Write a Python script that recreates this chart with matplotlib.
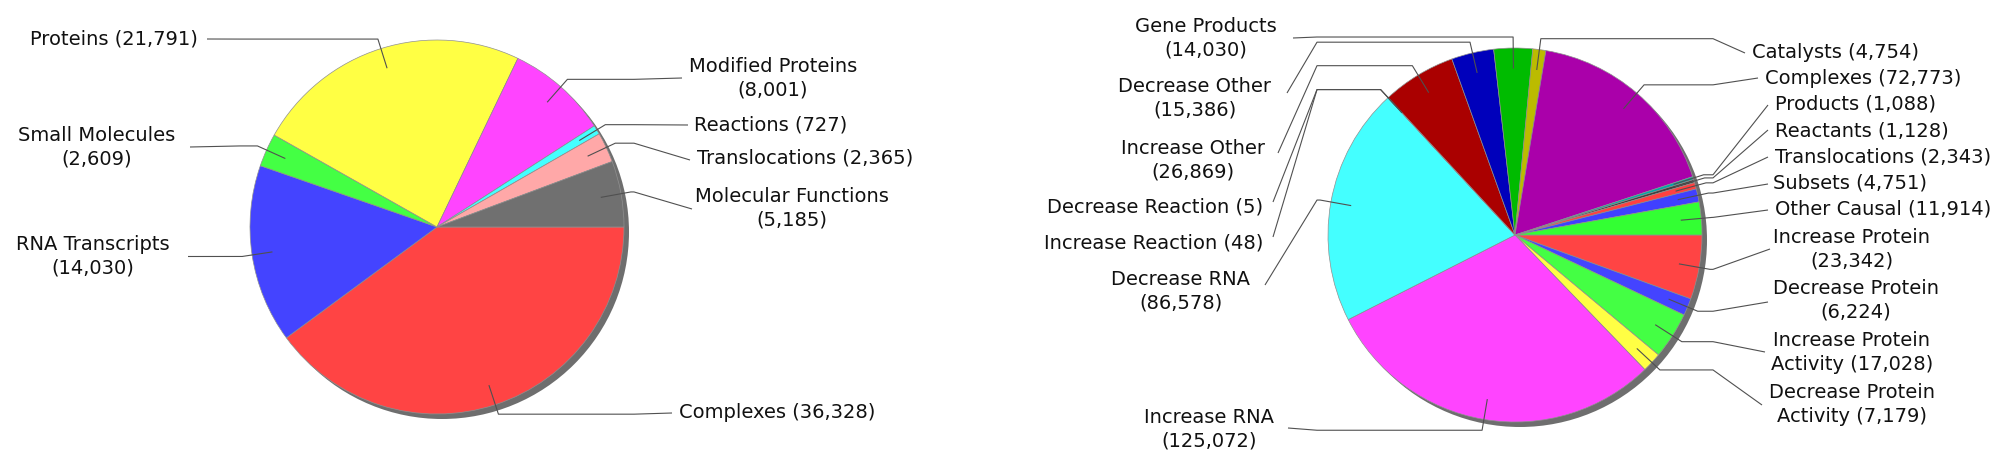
import numpy as np
import matplotlib
matplotlib.use("Agg")
import matplotlib.pyplot as plt
from matplotlib.patches import Circle

W, H = 2008, 463

# left pie: entity types
left_names = ["Complexes", "RNA Transcripts", "Small Molecules", "Proteins",
              "Modified Proteins", "Reactions", "Translocations", "Molecular Functions"]
left_counts = [36328, 14030, 2609, 21791, 8001, 727, 2365, 5185]
left_colors = ["#FF4444", "#4444FF", "#44FF44", "#FFFF44",
               "#FF44FF", "#44FFFF", "#FFA8A8", "#707070"]

# right pie: relation types
right_names = ["Increase Protein", "Decrease Protein", "Increase Protein Activity",
               "Decrease Protein Activity", "Increase RNA", "Decrease RNA",
               "Increase Reaction", "Decrease Reaction", "Increase Other", "Decrease Other",
               "Gene Products", "Catalysts", "Complexes", "Products", "Reactants",
               "Translocations", "Subsets", "Other Causal"]
right_counts = [23342, 6224, 17028, 7179, 125072, 86578, 48, 5, 26869, 15386,
                14030, 4754, 72773, 1088, 1128, 2343, 4751, 11914]
right_colors = ["#FF4444", "#4444FF", "#44FF44", "#FFFF44", "#FF44FF", "#44FFFF",
                "#FFA8A8", "#808080", "#AA0000", "#0000BB", "#00BB00", "#BBBB00",
                "#AA00AA", "#00AAAA", "#404040", "#FF4040", "#4040FF", "#33FF33"]

# label layout in pixels (text x, text y, align, link end x, link end y, line break)
left_layout = [
    (679, 412, "left", 672, 413, None),
    (93, 256.5, "center", 188, 256.5, "paren"),
    (97, 147.5, "center", 190, 147, "paren"),
    (198, 39, "right", 207, 39, None),
    (773, 78.5, "center", 682, 78, "paren"),
    (694, 125, "left", 688, 125, None),
    (697, 158, "left", 690, 160, None),
    (792, 208.5, "center", 692, 209, "paren"),
]
right_layout = [
    (1852, 249, "center", 1770, 249, "paren"),
    (1856, 300.5, "center", 1768, 302, "paren"),
    (1852, 352.5, "center", 1765, 352, 2),
    (1852, 404.5, "center", 1762, 405, 2),
    (1209, 429, "center", 1288, 428, "paren"),
    (1181, 291, "center", 1265, 285, "paren"),
    (1263, 243, "right", 1273, 237, None),
    (1263, 207, "right", 1273, 202, None),
    (1193, 160, "center", 1278, 153, "paren"),
    (1195, 98.5, "center", 1287, 93, "paren"),
    (1206, 38, "center", 1293, 38, "paren"),
    (1752, 52, "left", 1745, 53, None),
    (1765, 79, "left", 1758, 78, None),
    (1775, 104, "left", 1768, 105, None),
    (1775, 131, "left", 1768, 130, None),
    (1775, 157, "left", 1768, 157, None),
    (1773, 183, "left", 1768, 184, None),
    (1775, 209, "left", 1768, 210, None),
]


def make_label(name, count, brk):
    num = "({:,})".format(count)
    if brk is None:
        return name + " " + num
    if brk == "paren":
        return name + "\n" + num
    words = name.split()
    return " ".join(words[:brk]) + "\n" + " ".join(words[brk:]) + " " + num


def draw_pie(ax, names, counts, colors, layout, cx, cy, r, link_r):
    # shadow
    ax.add_patch(Circle((cx + 5, H - cy - 5), r, color="#6E6E6E", zorder=0.5, lw=0))
    wedges, _ = ax.pie(counts, colors=colors, startangle=0, counterclock=False,
                       center=(cx, H - cy), radius=r,
                       wedgeprops=dict(edgecolor="#909090", linewidth=0.5))
    for w, name, cnt, lay in zip(wedges, names, counts, layout):
        tx, ty, ha, ex_, ey_, brk = lay
        th = np.deg2rad((w.theta1 + w.theta2) / 2)
        c, s = np.cos(th), np.sin(th)
        x0, y0 = cx + 0.89 * r * c, H - cy + 0.89 * r * s
        x1, y1 = cx + link_r * c, H - cy + link_r * s
        x2 = cx + link_r if c >= 0 else cx - link_r
        ax.plot([x0, x1, x2, ex_], [y0, y1, y1, H - ey_], color="#505050", lw=0.8,
                zorder=3, solid_capstyle="butt")
        ax.text(tx, H - ty, make_label(name, cnt, brk), ha=ha, va="center",
                multialignment="center", fontsize=14, linespacing=1.3, color="#111111")


fig = plt.figure(figsize=(W / 100, H / 100), dpi=100)
ax = fig.add_axes([0, 0, 1, 1])
draw_pie(ax, left_names, left_counts, left_colors, left_layout, 437, 227, 187, 197)
draw_pie(ax, right_names, right_counts, right_colors, right_layout, 1515, 235, 187, 198)
ax.set_xlim(0, W)
ax.set_ylim(0, H)
ax.set_aspect("auto")
ax.axis("off")
plt.savefig("out.png", dpi=100)
